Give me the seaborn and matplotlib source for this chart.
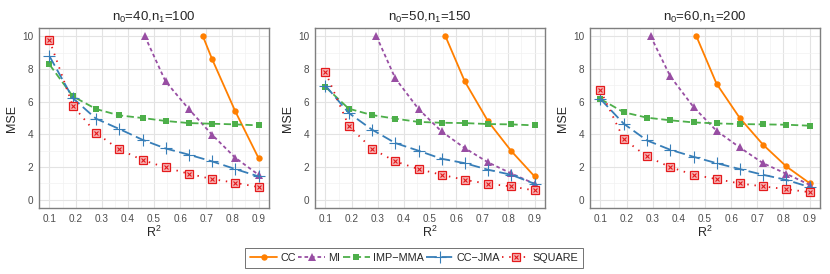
import numpy as np
import pandas as pd
import matplotlib
matplotlib.use("Agg")
import matplotlib.pyplot as plt
from matplotlib.lines import Line2D
from matplotlib.ticker import MultipleLocator
import seaborn as sns

# x grid of R^2 values
r2 = [0.1, 0.189, 0.278, 0.367, 0.456, 0.544, 0.633, 0.722, 0.811, 0.9]

titles = [r"n$_0$=40,n$_1$=100", r"n$_0$=50,n$_1$=150", r"n$_0$=60,n$_1$=200"]
methods = ["CC", "MI", "IMP\u2212MMA", "CC\u2212JMA", "SQUARE"]

# panel 1
cc_x1 = [0.687, 0.722, 0.811, 0.9]
cc_y1 = [10.0, 8.61, 5.41, 2.55]
mi_x1 = [0.465, 0.544, 0.633, 0.722, 0.811, 0.9]
mi_y1 = [10.0, 7.24, 5.55, 3.98, 2.57, 1.53]
imp_y1 = [8.27, 6.33, 5.55, 5.16, 5.0, 4.82, 4.69, 4.65, 4.61, 4.55]
jma_y1 = [8.78, 6.22, 4.96, 4.33, 3.67, 3.14, 2.76, 2.35, 1.88, 1.43]
sq_y1 = [9.76, 5.76, 4.08, 3.08, 2.43, 1.98, 1.59, 1.27, 1.04, 0.78]

# panel 2
cc_x2 = [0.559, 0.633, 0.722, 0.811, 0.9]
cc_y2 = [10.0, 7.24, 4.8, 2.98, 1.43]
mi_x2 = [0.295, 0.367, 0.456, 0.544, 0.633, 0.722, 0.811, 0.9]
mi_y2 = [10.0, 7.43, 5.55, 4.18, 3.16, 2.29, 1.61, 0.98]
imp_y2 = [6.9, 5.57, 5.18, 4.96, 4.76, 4.71, 4.69, 4.63, 4.61, 4.55]
jma_y2 = [6.98, 5.31, 4.29, 3.47, 3.0, 2.51, 2.24, 1.84, 1.53, 0.98]
sq_y2 = [7.8, 4.53, 3.12, 2.35, 1.88, 1.53, 1.22, 0.98, 0.82, 0.57]

# panel 3
cc_x3 = [0.467, 0.544, 0.633, 0.722, 0.811, 0.9]
cc_y3 = [10.0, 7.1, 5.0, 3.37, 2.04, 1.02]
mi_x3 = [0.292, 0.367, 0.456, 0.544, 0.633, 0.722, 0.811, 0.9]
mi_y3 = [10.0, 7.55, 5.67, 4.22, 3.2, 2.24, 1.59, 0.92]
imp_y3 = [6.16, 5.35, 5.02, 4.86, 4.73, 4.67, 4.63, 4.61, 4.59, 4.53]
jma_y3 = [6.16, 4.65, 3.63, 3.06, 2.63, 2.24, 1.88, 1.53, 1.22, 0.78]
sq_y3 = [6.69, 3.71, 2.65, 2.0, 1.53, 1.27, 1.0, 0.82, 0.65, 0.47]

panels = [
    (cc_x1, cc_y1, mi_x1, mi_y1, imp_y1, jma_y1, sq_y1),
    (cc_x2, cc_y2, mi_x2, mi_y2, imp_y2, jma_y2, sq_y2),
    (cc_x3, cc_y3, mi_x3, mi_y3, imp_y3, jma_y3, sq_y3),
]

colors = {"CC": "#FF7F00", "MI": "#984EA3", "IMP\u2212MMA": "#4DAF4A",
          "CC\u2212JMA": "#377EB8", "SQUARE": "#E41A1C"}
dashes = {"CC": "", "MI": (2, 1.6), "IMP\u2212MMA": (4, 2), "CC\u2212JMA": (6, 2.5),
          "SQUARE": (0.8, 3.2)}
markers = {"CC": "o", "MI": "^", "IMP\u2212MMA": "s", "CC\u2212JMA": "+", "SQUARE": "s"}
msizes = {"CC": 4.6, "MI": 5.2, "IMP\u2212MMA": 4.5}
LW = 1.3

sns.set_style("white")
plt.rcParams["font.family"] = ["Liberation Sans", "DejaVu Sans"]
plt.rcParams["mathtext.default"] = "regular"

fig = plt.figure(figsize=(8.3, 2.74), dpi=100)
lefts = [39 / 830, 315 / 830, 590 / 830]
width = 230 / 830
bottom = 1 - 208 / 274
height = 180 / 274

for i, (cx, cy, mx, my, impy, jmay, sqy) in enumerate(panels):
    ax = fig.add_axes([lefts[i], bottom, width, height])
    rows = []
    rows += [("CC", a, b) for a, b in zip(cx, cy)]
    rows += [("MI", a, b) for a, b in zip(mx, my)]
    rows += [("IMP\u2212MMA", a, b) for a, b in zip(r2, impy)]
    rows += [("CC\u2212JMA", a, b) for a, b in zip(r2, jmay)]
    rows += [("SQUARE", a, b) for a, b in zip(r2, sqy)]
    df = pd.DataFrame(rows, columns=["method", "r2", "mse"])

    for m in methods:
        d = df[df["method"] == m]
        if m == "CC\u2212JMA":
            sns.lineplot(data=d, x="r2", y="mse", ax=ax, color=colors[m],
                         linewidth=LW, marker="+", markersize=8.5,
                         markeredgewidth=0.8, markeredgecolor=colors[m], zorder=3)
            ax.lines[-1].set_dashes(dashes[m])
        elif m == "SQUARE":
            sns.lineplot(data=d, x="r2", y="mse", ax=ax, color=colors[m],
                         linewidth=LW, marker="s", markersize=5.2,
                         markeredgewidth=0.9, markeredgecolor=colors[m],
                         markerfacecolor="#F7B5B5", zorder=3)
            ax.lines[-1].set_dashes(dashes[m])
            ax.plot(d["r2"], d["mse"], ls="none", marker="x", ms=3.4,
                    mew=0.8, color=colors[m], zorder=4)
        else:
            sns.lineplot(data=d, x="r2", y="mse", ax=ax, color=colors[m],
                         linewidth=LW, marker=markers[m], markersize=msizes[m],
                         markeredgewidth=0, zorder=3)
            if dashes[m]:
                ax.lines[-1].set_dashes(dashes[m])

    ax.set_xlim(0.06, 0.94)
    ax.set_ylim(-0.5, 10.5)
    ax.xaxis.set_minor_locator(MultipleLocator(0.05))
    ax.yaxis.set_minor_locator(MultipleLocator(1))
    ax.set_xticks([0.1, 0.2, 0.3, 0.4, 0.5, 0.6, 0.7, 0.8, 0.9])
    ax.set_xticklabels(["0.1", "0.2", "0.3", "0.4", "0.5", "0.6", "0.7", "0.8", "0.9"])
    ax.set_yticks([0, 2, 4, 6, 8, 10])
    ax.set_yticklabels(["0", "2", "4", "6", "8", "10"])
    ax.grid(which="major", color="#E3E3E3", linewidth=0.8, zorder=0)
    ax.grid(which="minor", color="#F2F2F2", linewidth=0.5, zorder=0)
    ax.set_axisbelow(True)
    ax.tick_params(which="major", length=2.5, width=0.6, color="#333333",
                   labelsize=7.2, labelcolor="#4D4D4D", pad=1.5)
    ax.tick_params(which="minor", length=0)
    for s in ax.spines.values():
        s.set_color("#7F7F7F")
        s.set_linewidth(1.0)
    ax.set_xlabel(r"R$^2$", fontsize=9, labelpad=1)
    ax.set_ylabel("MSE", fontsize=9, labelpad=3)
    ax.set_title(titles[i], fontsize=9.5, pad=5)
    if ax.get_legend():
        ax.get_legend().remove()

handles = []
for m in methods:
    if m == "CC\u2212JMA":
        h = Line2D([], [], color=colors[m], lw=LW, dashes=dashes[m], marker="+",
                   ms=8.5, mew=0.8)
    elif m == "SQUARE":
        h = (Line2D([], [], color=colors[m], lw=LW, dashes=dashes[m], marker="s",
                    ms=5.2, mew=0.9, mfc="#F7B5B5"),
             Line2D([], [], ls="none", color=colors[m], marker="x", ms=3.4, mew=0.8))
    elif dashes[m]:
        h = Line2D([], [], color=colors[m], lw=LW, dashes=dashes[m],
                   marker=markers[m], ms=msizes[m], mew=0)
    else:
        h = Line2D([], [], color=colors[m], lw=LW, marker=markers[m], ms=msizes[m], mew=0)
    handles.append(h)

leg = fig.legend(handles, methods, loc="center", bbox_to_anchor=(0.499, 0.058),
                 ncol=5, fontsize=7.8, frameon=True, fancybox=False,
                 handlelength=2.5, handletextpad=0.3, columnspacing=0.2,
                 borderpad=0.45, borderaxespad=0)
leg.get_frame().set_edgecolor("#333333")
leg.get_frame().set_linewidth(0.6)

fig.savefig("out.png", dpi=100)
